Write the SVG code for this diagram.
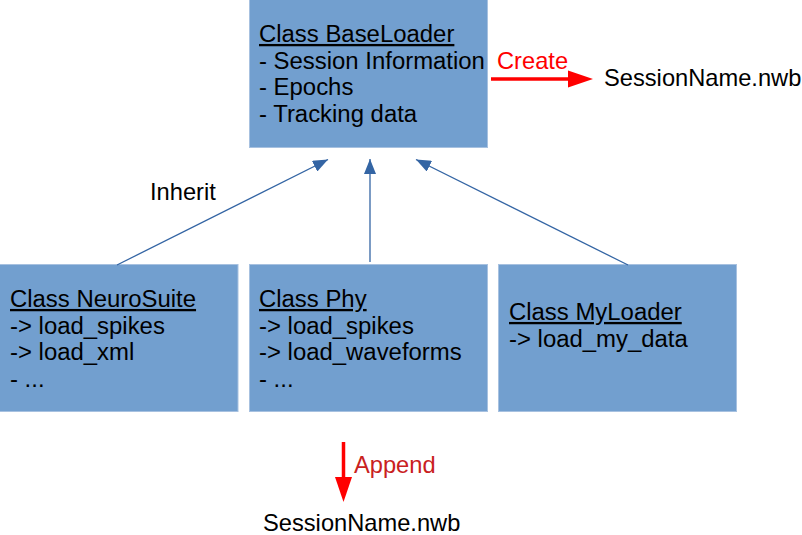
<svg xmlns="http://www.w3.org/2000/svg" width="802" height="535" viewBox="0 0 802 535">
<style>
.box{fill:#729fcf;stroke:#a7c1e0;stroke-width:1}
.t{font-family:"Liberation Sans",Arial,sans-serif;font-size:23px;fill:#000}
.u{text-decoration:underline}
.blue{stroke:#3465a4;stroke-width:1.3;fill:none}
.red{stroke:#ff0000;stroke-width:3.5;fill:none}
</style>
<defs>
<marker id="bh" markerWidth="16" markerHeight="12" refX="15" refY="6" orient="auto" markerUnits="userSpaceOnUse">
<path d="M0,0 L15,6 L0,12 Z" fill="#3465a4"/>
</marker>
</defs>
<rect width="802" height="535" fill="#fff"/>
<g id="baseloader">
<rect class="box" x="249.5" y="-1" width="238" height="148.5"/>
<text class="t" transform="translate(259,0) scale(1.04,1)" x="0" y="42"><tspan class="u">Class BaseLoader</tspan><tspan x="0" dy="26.7">- Session Information</tspan><tspan x="0" dy="26.7">- Epochs</tspan><tspan x="0" dy="26.7">- Tracking data</tspan></text>
</g>
<g id="neurosuite">
<rect class="box" x="-1" y="264.5" width="239" height="147"/>
<text class="t" transform="translate(10,0) scale(1.04,1)" x="0" y="307"><tspan class="u">Class NeuroSuite</tspan><tspan x="0" dy="26.7">-&gt; load_spikes</tspan><tspan x="0" dy="26.7">-&gt; load_xml</tspan><tspan x="0" dy="26.7">- ...</tspan></text>
</g>
<g id="phy">
<rect class="box" x="249.5" y="264.5" width="238" height="147"/>
<text class="t" transform="translate(259,0) scale(1.04,1)" x="0" y="307"><tspan class="u">Class Phy</tspan><tspan x="0" dy="26.7">-&gt; load_spikes</tspan><tspan x="0" dy="26.7">-&gt; load_waveforms</tspan><tspan x="0" dy="26.7">- ...</tspan></text>
</g>
<g id="myloader">
<rect class="box" x="498.5" y="264.5" width="238" height="147"/>
<text class="t" transform="translate(509,0) scale(1.04,1)" x="0" y="320"><tspan class="u">Class MyLoader</tspan><tspan x="0" dy="26.7">-&gt; load_my_data</tspan></text>
</g>
<g id="file-top">
<text class="t" transform="translate(604,0) scale(1.03,1)" x="0" y="86">SessionName.nwb</text>
</g>
<g id="file-bottom">
<text class="t" transform="translate(263,0) scale(1.03,1)" x="0" y="531">SessionName.nwb</text>
</g>
<g id="connectors">
<line class="blue" x1="117" y1="265" x2="328" y2="159.5" marker-end="url(#bh)"/>
<line class="blue" x1="370" y1="262" x2="370" y2="159" marker-end="url(#bh)"/>
<line class="blue" x1="628" y1="265" x2="416" y2="159.5" marker-end="url(#bh)"/>
<text class="t" transform="translate(150,0) scale(1.03,1)" x="0" y="200">Inherit</text>
<line class="red" x1="491" y1="79" x2="570" y2="79"/>
<path d="M568,70.5 L593,79 L568,87.5 Z" fill="#ff0000"/>
<text class="t" transform="translate(497,0) scale(1.03,1)" x="0" y="69" style="fill:#ff0000">Create</text>
<line class="red" x1="343.5" y1="442" x2="343.5" y2="480"/>
<path d="M335,477 L343.5,502 L352,477 Z" fill="#ff0000"/>
<text class="t" transform="translate(354,0) scale(1.03,1)" x="0" y="473" style="fill:#c9211e">Append</text>
</g>
</svg>
